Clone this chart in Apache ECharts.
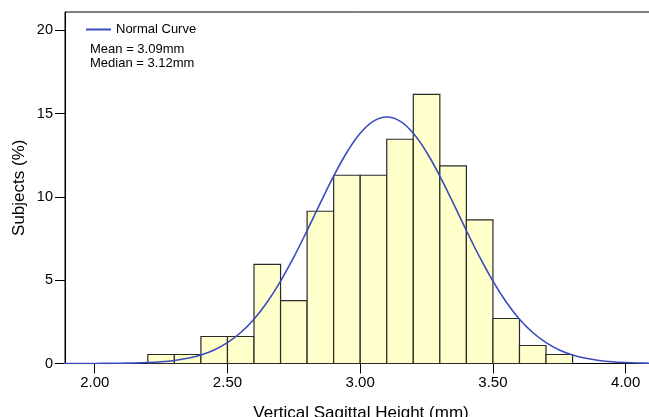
<!DOCTYPE html>
<html>
<head>
<meta charset="utf-8">
<script src="https://cdn.jsdelivr.net/npm/echarts@6/dist/echarts.min.js"></script>
<style>html,body{margin:0;padding:0;background:#fff;}#c{width:649px;height:417px;}</style>
</head>
<body>
<div id="c"></div>
<script>
// Histogram bins (mm) and percentage of subjects
const binStarts = [2.2, 2.3, 2.4, 2.5, 2.6, 2.7, 2.8, 2.9, 3.0, 3.1, 3.2, 3.3, 3.4, 3.5, 3.6, 3.7];
const binWidth = 0.1;
const percents = [0.54, 0.54, 1.62, 1.62, 5.95, 3.78, 9.14, 11.3, 11.3, 13.46, 16.16, 11.86, 8.62, 2.7, 1.08, 0.54];
// Normal curve
const curveX = [1.85, 1.9, 1.95, 2.0, 2.05, 2.1, 2.15, 2.2, 2.25, 2.3, 2.35, 2.4, 2.45, 2.5, 2.55, 2.6, 2.65, 2.7, 2.75, 2.8, 2.85, 2.9, 2.95, 3.0, 3.05, 3.1, 3.15, 3.2, 3.25, 3.3, 3.35, 3.4, 3.45, 3.5, 3.55, 3.6, 3.65, 3.7, 3.75, 3.8, 3.85, 3.9, 3.95, 4.0, 4.05, 4.1, 4.15];
const curveY = [0.0003, 0.0008, 0.0017, 0.0037, 0.0077, 0.0155, 0.03, 0.057, 0.104, 0.184, 0.312, 0.514, 0.816, 1.25, 1.86, 2.66, 3.69, 4.94, 6.39, 7.98, 9.64, 11.25, 12.68, 13.82, 14.55, 14.8, 14.55, 13.82, 12.68, 11.25, 9.64, 7.98, 6.39, 4.94, 3.69, 2.66, 1.86, 1.25, 0.816, 0.514, 0.312, 0.184, 0.104, 0.057, 0.03, 0.0155, 0.0077];
const xTicks = [2.0, 2.5, 3.0, 3.5, 4.0];
const yTicks = [0, 5, 10, 15, 20];
const statLines = ['Mean = 3.09mm', 'Median = 3.12mm'];

const font = 'Liberation Sans, Arial, sans-serif';
const chart = echarts.init(document.getElementById('c'));
chart.setOption({
  animation: false,
  grid: { left: 65, right: -8, top: 12, bottom: 53.5, containLabel: false, outerBoundsMode: 'none', show: true, borderColor: '#000', borderWidth: 1, backgroundColor: 'transparent' },
  legend: {
    left: 86, top: 23, itemWidth: 25, itemHeight: 2, itemGap: 6, padding: 0,
    icon: 'rect',
    textStyle: { fontFamily: font, fontSize: 13, color: '#000' },
    data: ['Normal Curve']
  },
  graphic: [{
    type: 'text', left: 90, top: 42,
    style: { text: statLines.join('\n'), font: '13px ' + font, fill: '#000', lineHeight: 14 }
  }],
  xAxis: {
    type: 'value', min: 1.888, max: 4.118,
    name: 'Vertical Sagittal Height (mm)', nameLocation: 'middle', nameGap: 41,
    nameTextStyle: { fontFamily: font, fontSize: 17, color: '#000' },
    axisLine: { show: true, onZero: false, lineStyle: { color: '#000', width: 1 } },
    axisTick: { show: true, inside: false, length: 10, lineStyle: { color: '#000' }, customValues: xTicks },
    axisLabel: { fontFamily: font, fontSize: 15, color: '#000', margin: 12, customValues: xTicks, formatter: v => v.toFixed(2) },
    splitLine: { show: false }
  },
  yAxis: {
    type: 'value', min: 0, max: 21.1,
    name: 'Subjects (%)', nameLocation: 'middle', nameGap: 37, nameRotate: 90, nameMoveOverlap: false,
    nameTextStyle: { fontFamily: font, fontSize: 17, color: '#000' },
    axisLine: { show: true, lineStyle: { color: '#000', width: 1 } },
    axisTick: { show: true, length: 10, lineStyle: { color: '#000' }, customValues: yTicks },
    axisLabel: { fontFamily: font, fontSize: 14.5, color: '#000', margin: 12, customValues: yTicks },
    splitLine: { show: false }
  },
  series: [{
    type: 'custom',
    name: 'Histogram',
    data: binStarts.map((s, i) => [s, s + binWidth, percents[i]]),
    renderItem: function (params, api) {
      const p0 = api.coord([api.value(0), api.value(2)]);
      const p1 = api.coord([api.value(1), 0]);
      return {
        type: 'rect',
        shape: { x: p0[0], y: p0[1], width: p1[0] - p0[0], height: p1[1] - p0[1] },
        style: { fill: '#ffffcc', stroke: '#2a2a2a', lineWidth: 1.2 }
      };
    },
    encode: { x: [0, 1], y: 2 },
    z: 2
  }, {
    type: 'line',
    name: 'Normal Curve',
    data: curveX.map((x, i) => [x, curveY[i]]),
    smooth: 0.4,
    showSymbol: false,
    lineStyle: { color: '#3a4cbc', width: 1.6 },
    itemStyle: { color: '#3a4cbc' },
    z: 3
  }]
});
</script>
</body>
</html>
